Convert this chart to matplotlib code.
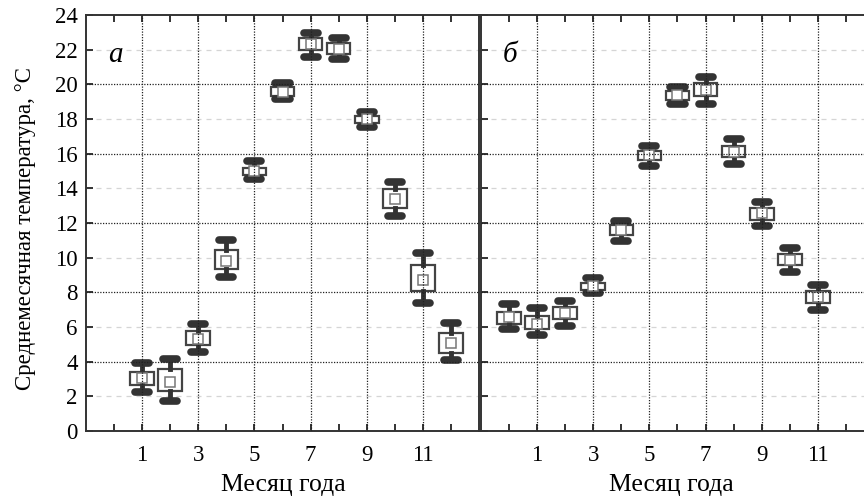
import numpy as np
import matplotlib
matplotlib.use("Agg")
import matplotlib.pyplot as plt

plt.rcParams['font.family'] = ['Liberation Serif', 'DejaVu Serif']

# panel a: months 1..12
a_pos = [1, 2, 3, 4, 5, 6, 7, 8, 9, 10, 11, 12]
a_mean = [3.05, 2.85, 5.3, 9.8, 15.0, 19.55, 22.3, 22.05, 18.0, 13.4, 8.7, 5.1]
a_q1 = [2.65, 2.3, 4.95, 9.35, 14.75, 19.3, 21.98, 21.75, 17.77, 12.87, 8.08, 4.5]
a_q3 = [3.4, 3.58, 5.77, 10.45, 15.2, 19.85, 22.68, 22.4, 18.18, 13.96, 9.58, 5.65]
a_lo = [2.25, 1.75, 4.55, 8.9, 14.55, 19.15, 21.6, 21.47, 17.55, 12.4, 7.4, 4.1]
a_hi = [3.9, 4.15, 6.2, 11.0, 15.55, 20.1, 22.95, 22.68, 18.4, 14.35, 10.25, 6.23]

# panel b: drawn one step to the left of the tick labels
b_pos = [0, 1, 2, 3, 4, 5, 6, 7, 8, 9, 10, 11]
b_mean = [6.6, 6.2, 6.8, 8.35, 11.6, 15.9, 19.4, 19.7, 16.1, 12.55, 9.87, 7.75]
b_q1 = [6.2, 5.87, 6.45, 8.14, 11.3, 15.64, 19.1, 19.3, 15.8, 12.2, 9.55, 7.4]
b_q3 = [6.87, 6.64, 7.15, 8.55, 11.9, 16.15, 19.6, 20.1, 16.45, 12.85, 10.2, 8.1]
b_lo = [5.88, 5.54, 6.07, 7.94, 10.96, 15.3, 18.87, 18.87, 15.4, 11.85, 9.19, 6.98]
b_hi = [7.3, 7.1, 7.5, 8.8, 12.1, 16.45, 19.85, 20.43, 16.85, 13.2, 10.57, 8.42]

xlabels = ['1', '3', '5', '7', '9', '11']
xlabel_pos = [1, 3, 5, 7, 9, 11]
panel_letters = ['а', 'б']

W, H = 864, 499
fig = plt.figure(figsize=(W / 100, H / 100), dpi=100)
ax1 = fig.add_axes([86 / W, 1 - 431 / H, (479 - 86) / W, (431 - 15) / H])
ax2 = fig.add_axes([481 / W, 1 - 431 / H, (874 - 481) / W, (431 - 15) / H])

dark = '#333333'
fs = 16.5


def draw_panel(ax, pos, mean, q1, q3, lo, hi, letter):
    stats = []
    for i in range(len(pos)):
        stats.append(dict(med=mean[i], q1=q1[i], q3=q3[i],
                          whislo=lo[i], whishi=hi[i], mean=mean[i], fliers=[]))
    ax.bxp(stats, positions=pos, widths=0.84, capwidths=0.5,
           patch_artist=True, showmeans=True, manage_ticks=False,
           boxprops=dict(facecolor='white', edgecolor='#444444', linewidth=1.6),
           whiskerprops=dict(color=dark, linewidth=3.5),
           capprops=dict(color=dark, linewidth=5.5, solid_capstyle='round'),
           medianprops=dict(linewidth=0),
           meanprops=dict(marker='s', markersize=7, markerfacecolor='white',
                          markeredgecolor='#777777', markeredgewidth=1.1))

    ax.set_xlim(-1, 13)
    ax.set_ylim(0, 24)

    # grid drawn over the boxes
    for y in [4, 8, 12, 16, 20]:
        ax.axhline(y, color='#222222', lw=0.9, ls=(0, (1, 1.2)), zorder=6)
    for y in [2, 6, 10, 14, 18, 22]:
        ax.axhline(y, color='#d5d5d5', lw=0.9, ls=(0, (4, 4)), zorder=1)
    for x in xlabel_pos:
        ax.axvline(x, color='#222222', lw=0.9, ls=(0, (1, 1.2)), zorder=6)

    ax.set_xticks(xlabel_pos)
    ax.set_xticklabels(xlabels, fontsize=fs)
    ax.set_xticks(range(0, 13, 2), minor=True)
    ax.set_yticks(range(0, 25, 2))
    ax.tick_params(which='both', direction='in', length=5, width=1.4,
                   color=dark, top=True, right=False, pad=10)
    ax.tick_params(axis='y', labelsize=fs, pad=6)
    for s in ax.spines.values():
        s.set_color(dark)
        s.set_linewidth(1.4)
    ax.set_xlabel('Месяц года', fontsize=18.5, va='center')
    ax.text(0.05, 21.7, letter, fontsize=21, style='italic', ha='center', va='center')


draw_panel(ax1, a_pos, a_mean, a_q1, a_q3, a_lo, a_hi, panel_letters[0])
draw_panel(ax2, b_pos, b_mean, b_q1, b_q3, b_lo, b_hi, panel_letters[1])

ax2.tick_params(axis='y', labelleft=False)
ax1.set_ylabel('Среднемесячная температура, °C', fontsize=16.5, labelpad=14)
ax1.yaxis.set_label_coords(-(86 - 26) / (479 - 86), (431 - 229) / 416)
ax1.yaxis.label.set_va('center')
ax1.xaxis.set_label_coords((283 - 86) / (479 - 86), -(485 - 431) / 416)
ax2.xaxis.set_label_coords((671 - 481) / (874 - 481), -(485 - 431) / 416)

fig.savefig('out.png', dpi=100)
